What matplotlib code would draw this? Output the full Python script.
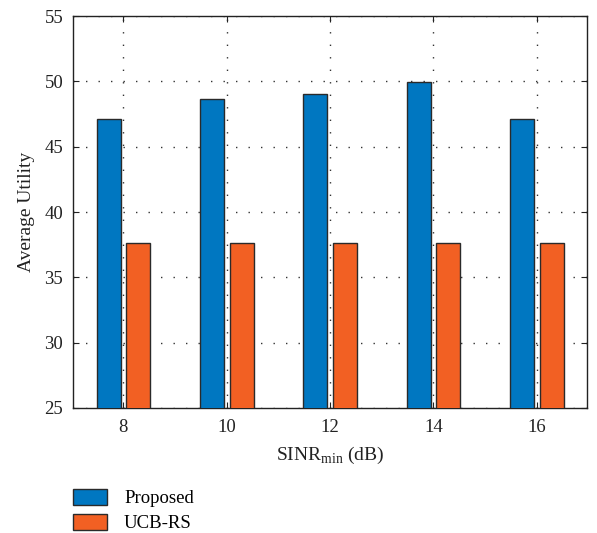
import matplotlib
matplotlib.use("Agg")
import matplotlib.pyplot as plt
import numpy as np

categories = ["8", "10", "12", "14", "16"]
proposed = [47.1, 48.65, 49.05, 49.92, 47.1]
ucb_rs = [37.65, 37.65, 37.65, 37.65, 37.65]
series_names = ["Proposed", "UCB-RS"]
yticks = [25, 30, 35, 40, 45, 50, 55]

plt.rcParams['font.family'] = ['Liberation Serif', 'DejaVu Serif']

fig = plt.figure(figsize=(5.97, 5.33), dpi=100)
ax = fig.add_axes([73/597, 1 - 408/533, (587-73)/597, (408-16)/533])

x = np.arange(1, len(categories) + 1)
w = 0.232
b1 = ax.bar(x - 0.143, proposed, w, color="#0077C1", edgecolor="#2a2a2a",
            linewidth=1.0, label=series_names[0], zorder=3)
b2 = ax.bar(x + 0.145, ucb_rs, w, color="#F26023", edgecolor="#2a2a2a",
            linewidth=1.0, label=series_names[1], zorder=3)

ax.set_xlim(0.513, 5.487)
ax.set_ylim(25, 55)
ax.set_xticks(x)
ax.set_xticklabels(categories)
ax.set_yticks(yticks)
ax.tick_params(direction="in", top=True, right=True, length=4, width=0.8,
               labelsize=13.5, colors="#222222")
ax.tick_params(axis="x", pad=8)
ax.tick_params(axis="y", pad=7)
for s in ax.spines.values():
    s.set_linewidth(1.0)
    s.set_color("#222222")
ax.grid(True, linestyle=(0, (1, 8)), color="#333333", linewidth=1.0, zorder=0)
ax.set_axisbelow(True)

ax.set_xlabel("SINR$_{\\mathregular{min}}$ (dB)", fontsize=14, color="#222222", labelpad=6)
ax.set_ylabel("Average Utility", fontsize=14, color="#222222", labelpad=7)

leg = fig.legend(handles=[b1, b2], loc="upper left",
                 bbox_to_anchor=(65/597, 1 - 481/533), frameon=False,
                 fontsize=13.5, handlelength=1.85, handleheight=1.0,
                 labelspacing=0.33, handletextpad=0.9, borderaxespad=0)

fig.savefig("out.png", dpi=100)
